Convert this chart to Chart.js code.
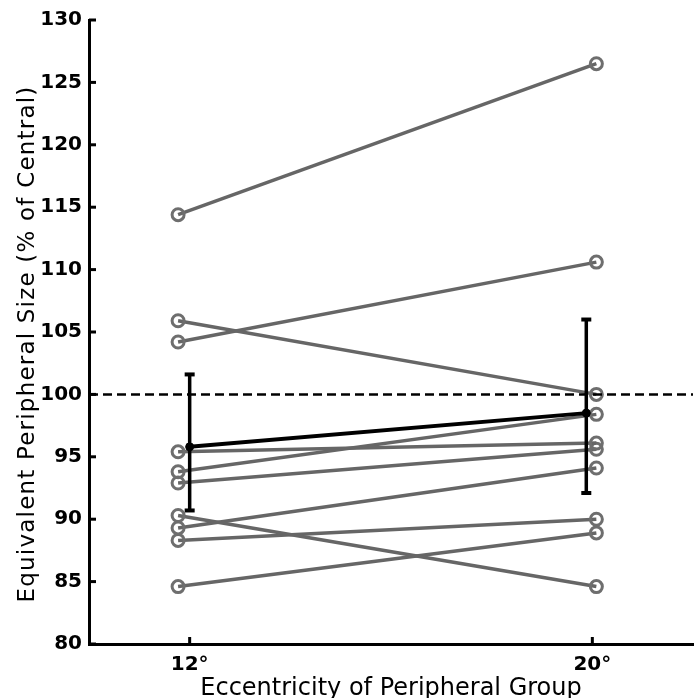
<!DOCTYPE html>
<html>
<head>
<meta charset="utf-8">
<script src="https://cdn.jsdelivr.net/npm/chart.js@4"></script>
<style>
  html, body { margin: 0; padding: 0; background: #fff; overflow: hidden; }
  #wrap { width: 702px; height: 698px; }
</style>
</head>
<body>
<div id="wrap"><canvas id="chart"></canvas></div>
<script>
// Individual observers (x positions slightly jittered as in the figure)
const subjX = [11.77, 20.08];
const at12 = [114.4, 105.9, 104.2, 95.4, 93.8, 92.9, 90.3, 89.3, 88.3, 84.6];
const at20 = [126.5, 100.0, 110.6, 96.1, 98.4, 95.6, 84.6, 94.1, 90.0, 88.9];

// Group mean with error bars
const meanX = [12, 19.88];
const meanY = [95.8, 98.5];
const errLow = [90.7, 92.1];
const errHigh = [101.6, 106.0];

const xTicks = [12, 20];
const yMin = 80, yMax = 130, yStep = 5;
const refLine = 100;
const yTitle = 'Equivalent Peripheral Size (% of Central)';

const gray = '#666666';
const fontFamily = 'DejaVu Sans, Liberation Sans, Arial';
const datasets = [];

// mean line
datasets.push({
  data: meanX.map((x, i) => ({ x: x, y: meanY[i] })),
  showLine: true, borderColor: '#000', borderWidth: 4,
  pointRadius: 4, pointBackgroundColor: '#000', pointBorderColor: '#000', pointBorderWidth: 1,
  order: 0
});
// error bars
meanX.forEach((x, i) => {
  datasets.push({
    data: [{ x: x, y: errLow[i] }, { x: x, y: errHigh[i] }],
    showLine: true, borderColor: '#000', borderWidth: 3.5,
    pointStyle: 'line', pointRadius: 5, pointBorderColor: '#000', pointBorderWidth: 4,
    order: 0
  });
});
// reference line at 100
datasets.push({
  data: [{ x: 10, y: refLine }, { x: 22, y: refLine }],
  showLine: true, borderColor: '#000', borderWidth: 2.5, borderDash: [9, 5],
  pointRadius: 0, order: 1
});
// subjects
at12.forEach((v, i) => {
  datasets.push({
    data: [{ x: subjX[0], y: v }, { x: subjX[1], y: at20[i] }],
    showLine: true, borderColor: gray, borderWidth: 3.5,
    pointRadius: 6, pointBorderWidth: 3, pointBorderColor: '#6e6e6e',
    pointBackgroundColor: 'rgba(255,255,255,0)', order: 2
  });
});

// inward tick marks + y title (figure places it a bit below the axis middle)
const extras = {
  id: 'extras',
  afterDraw(chart) {
    const { ctx, chartArea, scales } = chart;
    ctx.save();
    ctx.strokeStyle = '#000';
    ctx.lineWidth = 3;
    scales.y.ticks.forEach(t => {
      const py = scales.y.getPixelForValue(t.value);
      ctx.beginPath();
      ctx.moveTo(chartArea.left, py);
      ctx.lineTo(chartArea.left + 7, py);
      ctx.stroke();
    });
    scales.x.ticks.forEach(t => {
      const px = scales.x.getPixelForValue(t.value);
      ctx.beginPath();
      ctx.moveTo(px, chartArea.bottom);
      ctx.lineTo(px, chartArea.bottom - 7);
      ctx.stroke();
    });
    ctx.translate(28, 344);
    ctx.rotate(-Math.PI / 2);
    ctx.fillStyle = '#000';
    ctx.font = '23px ' + fontFamily;
    ctx.letterSpacing = '1.2px';
    ctx.textAlign = 'center';
    ctx.textBaseline = 'middle';
    ctx.fillText(yTitle, 0, 0);
    ctx.restore();
  }
};

new Chart(document.getElementById('chart'), {
  type: 'scatter',
  data: { datasets: datasets },
  plugins: [extras],
  options: {
    responsive: true,
    maintainAspectRatio: false,
    animation: false,
    layout: { padding: { top: 20, right: 2, left: 0, bottom: 0 } },
    plugins: { legend: { display: false }, tooltip: { enabled: false } },
    scales: {
      x: {
        type: 'linear', min: 10, max: 22,
        afterBuildTicks: s => { s.ticks = xTicks.map(v => ({ value: v })); },
        afterFit: s => { s.height = 54; },
        grid: { display: false, drawTicks: false },
        border: { display: true, color: '#000', width: 3 },
        ticks: {
          padding: 9, color: '#000',
          font: { family: fontFamily, size: 20, weight: 'bold' },
          callback: v => v + '\u00b0'
        },
        title: {
          display: true, text: 'Eccentricity of Peripheral Group', color: '#000',
          font: { family: fontFamily, size: 24 },
          padding: { top: 0, bottom: -5 }
        }
      },
      y: {
        type: 'linear', min: yMin, max: yMax,
        afterFit: s => { s.width = 89; },
        grid: { display: false, drawTicks: false },
        border: { display: true, color: '#000', width: 3 },
        ticks: {
          stepSize: yStep, padding: 7, color: '#000',
          font: { family: fontFamily, size: 20, weight: 'bold' }
        },
        title: { display: false }
      }
    }
  }
});
</script>
</body>
</html>
